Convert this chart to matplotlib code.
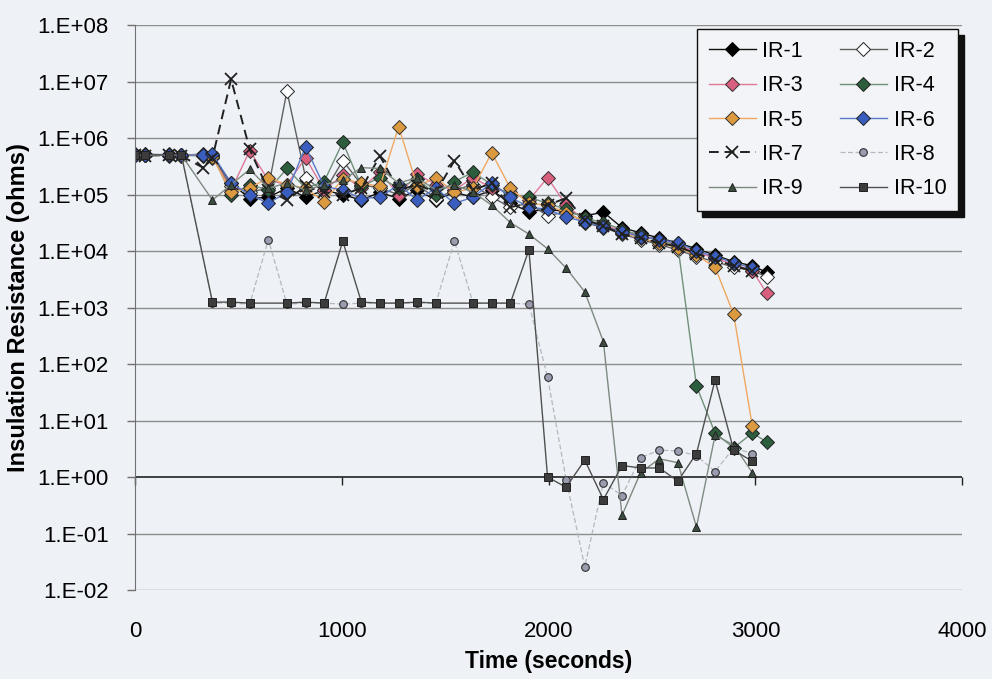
import numpy as np
import matplotlib
matplotlib.use("Agg")
import matplotlib.pyplot as plt
from matplotlib.ticker import FixedLocator, FuncFormatter, NullLocator

plt.rcParams['font.family'] = ['Liberation Sans', 'DejaVu Sans']

N = None
time_s = [0, 50, 165, 225, 330, 375, 465, 555, 645, 735, 825, 915, 1005, 1095, 1185,
          1275, 1365, 1455, 1545, 1635, 1725, 1815, 1905, 1995, 2085, 2175, 2265, 2355,
          2445, 2535, 2625, 2715, 2805, 2895, 2985, 3055]

ir1 = [5.3e5, 5.2e5, 5.0e5, 5.1e5, 5.0e5, 4.8e5, 1.6e5, 8.5e4, 9e4, 1.3e5, 9e4, 1.2e5,
       1.0e5, 8e4, 1.1e5, 8.5e4, 1.2e5, 8e4, 1.1e5, 9e4, 1.2e5, 7e4, 5e4, 5.5e4, 5e4,
       4.2e4, 4.9e4, 2.6e4, 2.1e4, 1.7e4, 1.4e4, 1.1e4, 8.5e3, 6.5e3, 5.5e3, 4.2e3]
ir2 = [5.0e5, 5.1e5, 4.9e5, 5.0e5, 5.2e5, 4.5e5, 1.4e5, 1.1e5, 1.3e5, 6.8e6, 2.0e5, 1.1e5,
       4.0e5, 1.5e5, 1.3e5, 1.0e5, 1.5e5, 8.5e4, 1.2e5, 1.5e5, 9e4, 6e4, 7e4, 4.2e4, 5e4,
       3.2e4, 2.6e4, 2.0e4, 1.6e4, 1.3e4, 1.05e4, 8.0e3, 6.5e3, 5.2e3, 4.5e3, 3.5e3]
ir3 = [5.2e5, 5.0e5, 5.1e5, 4.9e5, 5.0e5, 4.7e5, 1.2e5, 6.0e5, 1.8e5, 1.5e5, 4.5e5, 1.2e5,
       2.2e5, 1.3e5, 2.5e5, 1.0e5, 2.3e5, 1.5e5, 1.2e5, 2.0e5, 1.3e5, 1.1e5, 8e4, 2.0e5,
       6.5e4, 3.5e4, 2.9e4, 2.3e4, 1.9e4, 1.6e4, 1.3e4, 9.5e3, 7.5e3, 5.8e3, 4.5e3, 1.8e3]
ir4 = [5.0e5, 5.0e5, 5.2e5, 5.0e5, 4.8e5, 5.0e5, 1.0e5, 1.5e5, 1.2e5, 2.9e5, 1.3e5, 1.7e5,
       8.5e5, 1.4e5, 2.0e5, 1.3e5, 1.9e5, 1.0e5, 1.7e5, 2.5e5, 1.5e5, 1.0e5, 9e4, 7e4,
       5.5e4, 3.8e4, 3.2e4, 2.4e4, 1.9e4, 1.55e4, 1.25e4, 41, 6, 3.3, 6, 4.2]
ir5 = [5.0e5, 5.1e5, 5.0e5, 4.9e5, 5.0e5, 4.6e5, 1.1e5, 1.3e5, 2.0e5, 1.5e5, 1.3e5, 7.5e4,
       1.9e5, 1.6e5, 1.4e5, 1.6e6, 1.4e5, 2.0e5, 1.1e5, 1.3e5, 5.5e5, 1.3e5, 7e4, 6.5e4,
       4.8e4, 3.3e4, 2.8e4, 2.1e4, 1.7e4, 1.4e4, 1.15e4, 8.5e3, 5.2e3, 760, 8, N]
ir6 = [5.0e5, 5.0e5, 5.1e5, 5.0e5, 5.0e5, 5.2e5, 1.6e5, 1.0e5, 7e4, 1.1e5, 7e5, 1.4e5,
       1.2e5, 8.5e4, 9e4, 1.5e5, 8e4, 1.3e5, 7e4, 9e4, 1.6e5, 9e4, 6e4, 5.5e4, 4e4,
       3.3e4, 2.7e4, 2.2e4, 1.8e4, 1.6e4, 1.4e4, 1.0e4, 8e3, 6.2e3, 5e3, N]
ir7 = [5.0e5, 4.9e5, 5.0e5, 4.8e5, 3.0e5, 4.5e5, 1.1e7, 6.3e5, 1.2e5, 8e4, 1.4e5, 1.1e5,
       1.0e5, 1.3e5, 4.8e5, 1.2e5, 1.5e5, 1.1e5, 4.0e5, 1.2e5, 1.6e5, 6e4, 7e4, 6.5e4,
       8.7e4, 3.6e4, 2.8e4, 2.0e4, 1.7e4, 1.4e4, 1.2e4, 9e3, 7e3, 5.5e3, 4.5e3, N]
ir8 = [5.0e5, 5.0e5, 4.9e5, 5.0e5, N, 1.2e3, 1.2e3, 1.15e3, 1.6e4, 1.15e3, 1.2e3, 1.2e3,
       1.15e3, 1.2e3, 1.2e3, 1.2e3, 1.2e3, 1.2e3, 1.5e4, 1.2e3, 1.2e3, 1.2e3, 1.15e3, 59,
       0.9, 0.026, 0.8, 0.47, 2.2, 3.0, 2.9, 2.4, 1.25, 3.3, 2.6, N]
ir9 = [5.0e5, 5.0e5, 5.0e5, 5.0e5, N, 8e4, 1.5e5, 2.8e5, 1.3e5, 1.6e5, 1.2e5, 1.5e5,
       1.8e5, 3.0e5, 2.9e5, 1.6e5, 2.0e5, 1.2e5, 1.5e5, 1.1e5, 6.5e4, 3.2e4, 2.0e4, 1.1e4,
       5e3, 1.9e3, 250, 0.21, 1.2, 2.1, 1.8, 0.13, 5.5, 3.7, 1.2, N]
ir10 = [5.0e5, 5.1e5, 5.0e5, 5.0e5, N, 1.25e3, 1.25e3, 1.2e3, N, 1.2e3, 1.25e3, 1.2e3,
        1.5e4, 1.25e3, 1.2e3, 1.2e3, 1.25e3, 1.2e3, N, 1.2e3, 1.2e3, 1.2e3, 1.05e4, 1.0,
        0.66, 2.0, 0.4, 1.6, 1.45, 1.45, 0.85, 2.6, 52, 3.0, 1.9, N]

labels = ['IR-1', 'IR-2', 'IR-3', 'IR-4', 'IR-5', 'IR-6', 'IR-7', 'IR-8', 'IR-9', 'IR-10']
series = [ir1, ir2, ir3, ir4, ir5, ir6, ir7, ir8, ir9, ir10]

styles = [
    dict(color='#101010', marker='D', ms=7, mfc='#000000', mec='#000000', ls='-', lw=1.0),
    dict(color='#606060', marker='D', ms=7, mfc='#ffffff', mec='#202020', ls='-', lw=1.0),
    dict(color='#e07898', marker='D', ms=7, mfc='#d8607e', mec='#303030', ls='-', lw=1.0),
    dict(color='#70907a', marker='D', ms=7, mfc='#2c5e3e', mec='#202020', ls='-', lw=1.0),
    dict(color='#f0a860', marker='D', ms=7, mfc='#dc9a40', mec='#303030', ls='-', lw=1.0),
    dict(color='#5a78c8', marker='D', ms=7, mfc='#3a5ec0', mec='#202020', ls='-', lw=1.0),
    dict(color='#202020', marker='x', ms=9, mfc='none', mec='#202020', mew=1.3, ls=(0, (5, 3)), lw=1.4),
    dict(color='#b4b8c0', marker='o', ms=5.5, mfc='#9a9cb0', mec='#303030', mew=0.8, ls=(0, (4, 2)), lw=0.9),
    dict(color='#7e8a80', marker='^', ms=6, mfc='#3c4c40', mec='#202020', ls='-', lw=1.0),
    dict(color='#505050', marker='s', ms=6, mfc='#3c3c3c', mec='#202020', ls='-', lw=1.0),
]

bg = '#eef2f6'
fig = plt.figure(figsize=(9.92, 6.79), dpi=100, facecolor=bg)
ax = fig.add_axes([0.136, 0.131, 0.834, 0.832], facecolor=bg)

t = np.array(time_s, dtype=float)
handles = []
for lab, vals, st in zip(labels, series, styles):
    v = np.array([np.nan if x is None else x for x in vals], dtype=float)
    m = ~np.isnan(v)
    st = dict(st)
    mew = st.pop('mew', 0.7)
    h, = ax.plot(t[m], v[m], label=lab, mew=mew, **st)
    handles.append(h)

ax.set_yscale('log')
ax.set_ylim(1e-2, 1e8)
ax.set_xlim(0, 4000)

ydec = [10.0 ** k for k in range(-2, 9)]
ax.yaxis.set_major_locator(FixedLocator(ydec))
ax.yaxis.set_minor_locator(NullLocator())
ax.yaxis.set_major_formatter(FuncFormatter(lambda v, p: '1.E%+03d' % int(round(np.log10(v)))))
for y in ydec:
    if y != 1.0:
        ax.axhline(y, color='#8c8c8c', lw=1.0, zorder=0)
ax.axhline(1.0, color='#202020', lw=1.2, zorder=0.5)

ax.spines['top'].set_visible(False)
ax.spines['right'].set_visible(False)
ax.spines['left'].set_color('#707070')
ax.spines['bottom'].set_position(('data', 1.0))
ax.spines['bottom'].set_visible(False)

xt = [0, 1000, 2000, 3000, 4000]
ax.xaxis.set_major_locator(FixedLocator(xt))
ax.tick_params(axis='x', direction='out', length=6, width=1, color='#202020', labelbottom=False)
ax.tick_params(axis='y', direction='out', length=6, width=1, color='#707070', labelsize=16, pad=13)

sec = ax.secondary_xaxis('bottom')
sec.xaxis.set_major_locator(FixedLocator(xt))
sec.tick_params(axis='x', length=0, labelsize=16, pad=22)
sec.spines['bottom'].set_visible(False)
sec.set_xlabel('Time (seconds)', fontsize=16.5, fontweight='bold', labelpad=6)

ax.set_ylabel('Insulation Resistance (ohms)', fontsize=17, fontweight='bold', labelpad=5)

# row-major legend order (IR-1, IR-2 / IR-3, IR-4 ...)
order = [0, 2, 4, 6, 8, 1, 3, 5, 7, 9]
leg = ax.legend([handles[i] for i in order], [labels[i] for i in order],
                ncol=2, loc='upper right', bbox_to_anchor=(0.995, 0.993), borderaxespad=0.0,
                fontsize=15.5, frameon=True, fancybox=False, edgecolor='#101010',
                facecolor='#f2f4f7', framealpha=1.0, handlelength=2.2, handletextpad=0.3,
                columnspacing=1.7, labelspacing=0.62, borderpad=0.55,
                shadow={'color': '#101010', 'alpha': 1.0, 'ox': 4, 'oy': -4})
leg.get_frame().set_linewidth(1.0)

fig.savefig('out.png', dpi=100, facecolor=bg)
